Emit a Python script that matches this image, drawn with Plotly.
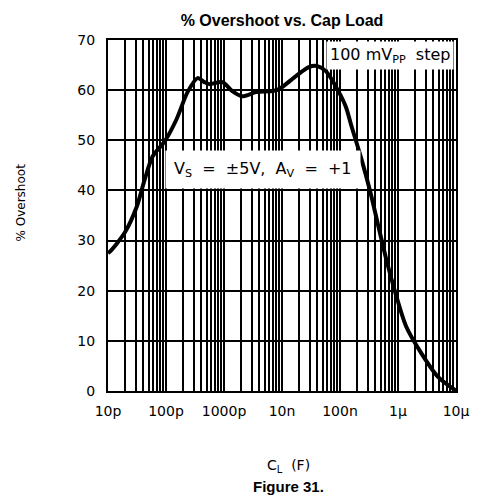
import plotly.graph_objects as go

# -----------------------------------------
# DATA
# -----------------------------------------
cap_load = [1.0e-11, 1.08e-11, 1.95e-11, 3.14e-11, 4.3e-11, 5.9e-11, 9.5e-11,
            1.52e-10, 2.35e-10, 3.5e-10, 4.6e-10, 5.6e-10, 9.4e-10, 1.39e-9,
            2.06e-9, 3.6e-9, 6.7e-9, 8.9e-9, 1.74e-8, 2.9e-8, 4.0e-8, 5.7e-8,
            8.4e-8, 1.25e-7, 1.58e-7, 2.35e-7, 3.35e-7, 4.6e-7,
            6.3e-7, 9.0e-7, 1.39e-6, 2.5e-6, 4.9e-6, 9.6e-6, 1.0e-5]
overshoot = [27.5, 27.8, 31.6, 36.8, 42.2, 46.8, 49.8,
             54.2, 59.6, 62.4, 61.6, 61.2, 61.6, 59.8,
             58.8, 59.6, 59.8, 60.2, 62.8, 64.6, 64.8, 63.8,
             60.8, 56.8, 52.8, 46.2, 39.6, 32.8,
             26.2, 19.6, 12.8, 7.6, 2.8, 0.2, 0.1]

decade_vals = [1e-11, 1e-10, 1e-9, 1e-8, 1e-7, 1e-6, 1e-5]
decade_text = ["10p", "100p", "1000p", "10n", "100n", "1\u03bc", "10\u03bc"]
minor_vals = [m * d for d in decade_vals[:-1] for m in range(2, 10)]
y_ticks = [0, 10, 20, 30, 40, 50, 60, 70]

FONT = "DejaVu Sans"

fig = go.Figure()

fig.add_trace(go.Scatter(
    x=cap_load, y=overshoot,
    mode="lines",
    line=dict(color="black", width=4, shape="spline", smoothing=0.8),
    hoverinfo="skip",
))

# page has an 8px body margin, so the figure is a bit smaller than the window
fig.update_layout(
    width=473, height=492,
    margin=dict(l=100, r=15, t=32, b=109),
    paper_bgcolor="white",
    plot_bgcolor="white",
    showlegend=False,
    title=dict(
        text="<b>% Overshoot vs. Cap Load</b>",
        font=dict(family="Liberation Sans", size=16, color="black"),
        x=0.5, xanchor="center", xref="paper",
        y=0.975, yanchor="middle",
    ),
)

fig.update_xaxes(
    type="log", range=[-11, -5],
    tickmode="array", tickvals=decade_vals, ticktext=decade_text,
    tickfont=dict(family=FONT, size=14, color="black"),
    showgrid=True, gridcolor="black", gridwidth=1.5,
    minor=dict(tickmode="array", tickvals=minor_vals, showgrid=True,
               gridcolor="black", gridwidth=1.5, ticks=""),
    showline=True, linecolor="black", linewidth=2, mirror=True,
    ticks="", ticklabelstandoff=6, zeroline=False,
)

fig.update_yaxes(
    range=[0, 70], tickmode="array", tickvals=y_ticks,
    tickfont=dict(family=FONT, size=14, color="black"),
    showgrid=True, gridcolor="black", gridwidth=1.5,
    showline=True, linecolor="black", linewidth=2, mirror=True,
    ticks="", ticklabelstandoff=8, zeroline=False,
)

# Labels with white boxes over the grid
fig.add_annotation(
    x=1.0, y=1.0, xref="paper", yref="paper", xanchor="right", yanchor="top",
    text="100 mV<sub>PP</sub>  step", showarrow=False,
    font=dict(family=FONT, size=16, color="black"),
    bgcolor="white", borderpad=3, xshift=-2, yshift=-1,
)
fig.add_annotation(
    x=-8.33, y=44.2, xref="x", yref="y", xanchor="center", yanchor="middle",
    text="V<sub>S</sub>  =  \u00b15V,  A<sub>V</sub>  =  +1", showarrow=False,
    font=dict(family=FONT, size=16, color="black"),
    bgcolor="white", borderpad=8,
)

# Axis titles
fig.add_annotation(
    x=-0.275, y=0.538, xref="paper", yref="paper",
    text="% Overshoot", textangle=-90, showarrow=False,
    font=dict(family=FONT, size=12, color="black"),
)
fig.add_annotation(
    x=0.52, y=-0.215, xref="paper", yref="paper", yanchor="middle",
    text="C<sub>L</sub>  (F)", showarrow=False,
    font=dict(family=FONT, size=14, color="black"),
)
fig.add_annotation(
    x=0.52, y=-0.272, xref="paper", yref="paper", yanchor="middle",
    text="<b>Figure 31.</b>", showarrow=False,
    font=dict(family="Liberation Sans", size=15, color="black"),
)

fig.write_html("out.html")
